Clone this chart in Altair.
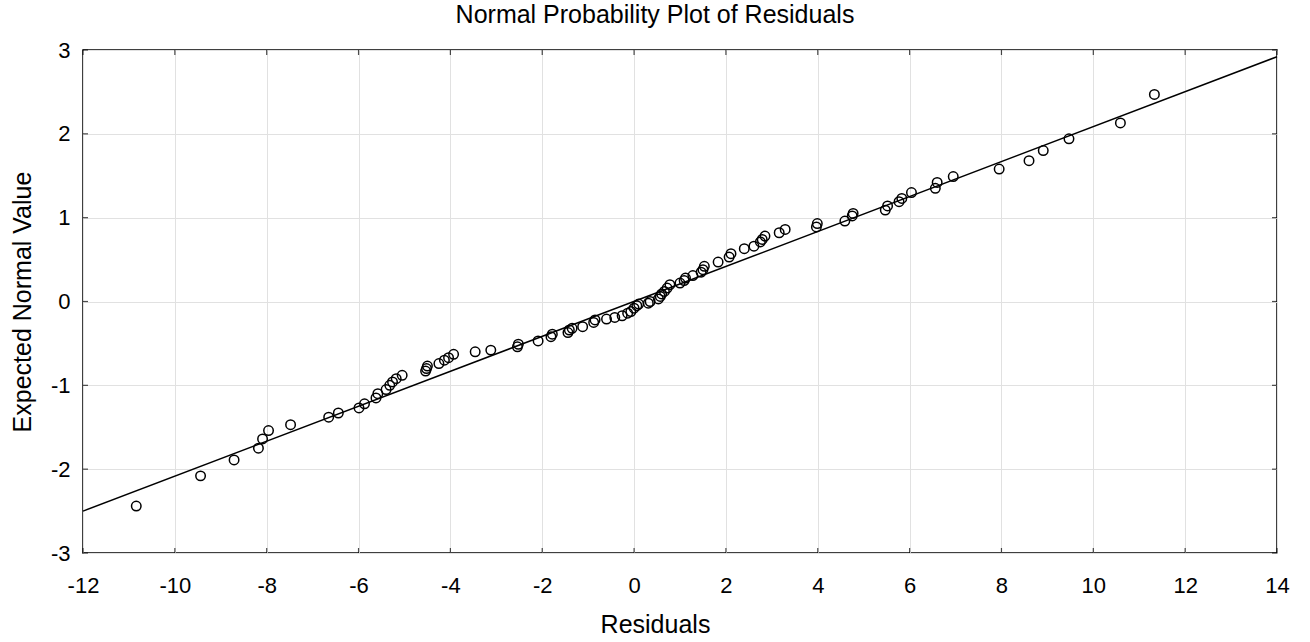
import altair as alt
import pandas as pd

# Residuals (x) and expected normal values (y)
resid = [-10.84, -9.44, -8.71, -8.18, -8.09, -7.96, -7.48, -6.65, -6.44, -5.99,
         -5.87, -5.62, -5.58, -5.40, -5.32, -5.26, -5.18, -5.05, -4.54, -4.52,
         -4.50, -4.25, -4.13, -4.04, -3.93, -3.46, -3.12,
         -2.54, -2.52, -2.09, -1.81, -1.78, -1.44, -1.41, -1.35, -1.12, -0.88,
         -0.85, -0.60, -0.42, -0.26, -0.14, -0.07, 0.00, 0.06, 0.10, 0.31, 0.35,
         0.53, 0.57, 0.60, 0.66, 0.72, 0.78, 1.00, 1.09, 1.12, 1.28,
         1.46, 1.50, 1.53, 1.83, 2.07, 2.11, 2.40, 2.61, 2.75, 2.79,
         2.85, 3.16, 3.29, 3.97, 3.99, 4.59, 4.75, 4.77, 5.47, 5.52,
         5.77, 5.83, 6.04, 6.56, 6.60, 6.95, 7.95, 8.60, 8.91, 9.47,
         10.59, 11.33]
expected = [-2.44, -2.08, -1.89, -1.75, -1.64, -1.54, -1.47, -1.38, -1.33, -1.27,
            -1.22, -1.15, -1.10, -1.05, -1.00, -0.96, -0.92, -0.88, -0.83, -0.80,
            -0.77, -0.74, -0.70, -0.67, -0.63, -0.60, -0.58,
            -0.54, -0.51, -0.47, -0.42, -0.39, -0.37, -0.34, -0.32, -0.30, -0.25,
            -0.22, -0.21, -0.19, -0.17, -0.14, -0.12, -0.08, -0.05, -0.03, -0.02, 0.00,
            0.03, 0.06, 0.09, 0.12, 0.16, 0.20, 0.22, 0.25, 0.28, 0.31,
            0.35, 0.38, 0.42, 0.47, 0.53, 0.57, 0.63, 0.66, 0.71, 0.74,
            0.78, 0.82, 0.86, 0.89, 0.93, 0.96, 1.02, 1.05, 1.09, 1.14,
            1.19, 1.23, 1.30, 1.35, 1.42, 1.49, 1.58, 1.68, 1.80, 1.94,
            2.13, 2.47]

# Reference line endpoints
fit_x = [-12, 14]
fit_y = [-2.50, 2.92]

x_ticks = [-12, -10, -8, -6, -4, -2, 0, 2, 4, 6, 8, 10, 12, 14]
y_ticks = [-3, -2, -1, 0, 1, 2, 3]

W, H = 1194, 503
LEFT = 83
TOTAL_W = 1310
FONT = "Liberation Sans"

xscale = alt.Scale(domain=[-12, 14], nice=False, zero=False)
yscale = alt.Scale(domain=[-3, 3], nice=False, zero=False)

LBL = "datum.value < 0 ? '-' + abs(datum.value) : '' + datum.value"
x_axis = alt.Axis(values=x_ticks, labelFlush=False, labelOverlap=False,
                  labelPadding=22, titlePadding=16, labelExpr=LBL,
                  titleX=TOTAL_W / 2 - LEFT)
y_axis = alt.Axis(values=y_ticks, labelFlush=False, labelOverlap=False,
                  labelPadding=13, titlePadding=15, labelExpr=LBL)
XT = "Residuals"
YT = "Expected Normal Value"

pts_df = pd.DataFrame({"r": resid, "e": expected})
fit_df = pd.DataFrame({"r": fit_x, "e": fit_y})
xt_df = pd.DataFrame({"r": x_ticks})
yt_df = pd.DataFrame({"e": y_ticks})

line = alt.Chart(fit_df).mark_line(color="black", strokeWidth=1.5).encode(
    x=alt.X("r:Q", scale=xscale, axis=x_axis, title=XT),
    y=alt.Y("e:Q", scale=yscale, axis=y_axis, title=YT),
)

pts = alt.Chart(pts_df).mark_point(
    shape="circle", filled=False, color="black", size=90, strokeWidth=1.5, opacity=1
).encode(
    x=alt.X("r:Q", scale=xscale, axis=x_axis, title=XT),
    y=alt.Y("e:Q", scale=yscale, axis=y_axis, title=YT),
)

tick_style = dict(color="black", thickness=1.2, size=5)
bottom_ticks = alt.Chart(xt_df).mark_tick(orient="vertical", **tick_style).encode(
    x=alt.X("r:Q", scale=xscale, axis=x_axis, title=XT), y=alt.value(H - 2.5))
top_ticks = alt.Chart(xt_df).mark_tick(orient="vertical", **tick_style).encode(
    x=alt.X("r:Q", scale=xscale, axis=x_axis, title=XT), y=alt.value(2.5))
left_ticks = alt.Chart(yt_df).mark_tick(orient="horizontal", **tick_style).encode(
    y=alt.Y("e:Q", scale=yscale, axis=y_axis, title=YT), x=alt.value(2.5))
right_ticks = alt.Chart(yt_df).mark_tick(orient="horizontal", **tick_style).encode(
    y=alt.Y("e:Q", scale=yscale, axis=y_axis, title=YT), x=alt.value(W - 2.5))

chart = alt.layer(line, pts, bottom_ticks, top_ticks, left_ticks, right_ticks).properties(
    width=W, height=H,
    background="white",
    title=alt.TitleParams("Normal Probability Plot of Residuals", font=FONT,
                          fontSize=25, fontWeight="normal", color="black",
                          offset=11, anchor="middle",
                          dx=TOTAL_W / 2 - LEFT - W / 2),
    autosize=alt.AutoSizeParams(type="none"),
    padding={"left": LEFT, "top": 50, "right": 33, "bottom": 89},
).configure_axis(
    grid=True, gridColor="#e1e1e1", gridWidth=1, ticks=False, domain=False,
    labelFont=FONT, labelFontSize=22, labelColor="black",
    titleFont=FONT, titleFontSize=25, titleColor="black", titleFontWeight="normal",
).configure_view(stroke="black", strokeWidth=1.5)

chart.save("out.html", embed_options={"renderer": "svg", "actions": False})
